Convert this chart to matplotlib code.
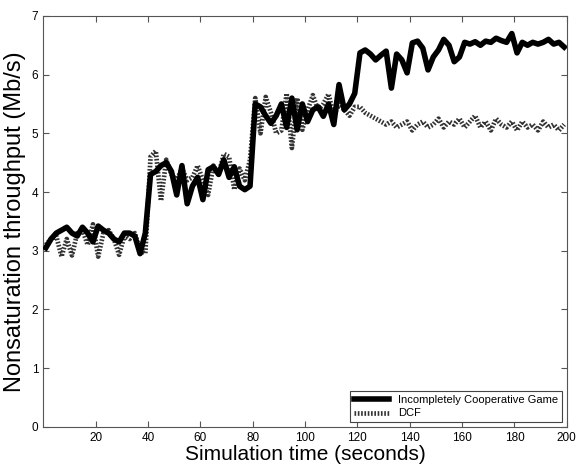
import numpy as np
import matplotlib
matplotlib.use('Agg')
import matplotlib.pyplot as plt

plt.rcParams['font.family'] = ['Liberation Sans', 'DejaVu Sans']

# simulation time (s), one sample every 2 s
time = np.arange(1, 201, 2)

# throughput (Mb/s)
icg = [3.05, 3.2, 3.3, 3.35, 3.4, 3.3, 3.25, 3.4, 3.3, 3.15,
       3.42, 3.35, 3.3, 3.2, 3.15, 3.3, 3.3, 3.25, 2.95, 3.3,
       4.3, 4.35, 4.45, 4.5, 4.35, 3.95, 4.45, 3.8, 4.1, 4.25,
       3.87, 4.38, 4.43, 4.3, 4.55, 4.25, 4.43, 4.1, 4.04, 4.1,
       5.5, 5.45, 5.3, 5.17, 5.3, 5.5, 5.1, 5.6, 5.06, 5.5,
       5.2, 5.4, 5.45, 5.29, 5.5, 5.15, 5.83, 5.4, 5.5, 5.68,
       6.37, 6.42, 6.35, 6.25, 6.33, 6.4, 5.77, 6.35, 6.25, 6.03,
       6.54, 6.57, 6.45, 6.08, 6.3, 6.42, 6.6, 6.5, 6.22, 6.3,
       6.55, 6.52, 6.56, 6.5, 6.57, 6.55, 6.62, 6.58, 6.55, 6.7,
       6.37, 6.55, 6.5, 6.55, 6.52, 6.55, 6.6, 6.52, 6.55, 6.47]

dcf = [3.1, 3.2, 3.25, 2.9, 3.2, 2.92, 3.3, 3.35, 3.1, 3.45,
       2.9, 3.3, 3.35, 3.2, 2.93, 3.25, 3.2, 3.3, 3.0, 2.95,
       4.6, 4.7, 3.85, 4.55, 4.3, 4.2, 4.4, 4.2, 4.25, 4.45,
       4.2, 3.95, 4.45, 4.3, 4.65, 4.6, 4.04, 4.4, 4.2, 4.55,
       5.6, 5.0, 5.62, 5.35, 5.0, 5.05, 5.68, 4.75, 5.6, 5.06,
       5.4, 5.65, 5.4, 5.5, 5.67, 5.3, 5.5, 5.4, 5.3, 5.45,
       5.45, 5.35, 5.3, 5.25, 5.2, 5.15, 5.2, 5.1, 5.15, 5.2,
       5.05, 5.15, 5.2, 5.1, 5.15, 5.25, 5.1, 5.2, 5.15, 5.25,
       5.1, 5.2, 5.3, 5.1, 5.2, 5.05, 5.25, 5.15, 5.1, 5.2,
       5.05, 5.2, 5.1, 5.15, 5.05, 5.2, 5.1, 5.15, 5.05, 5.15]

fig = plt.figure(figsize=(5.76, 4.68), dpi=100)
ax = fig.add_axes([0.075, 0.088, 0.909, 0.878])

ax.plot(time, dcf, color='#333333', lw=3.4, linestyle=(0, (0.35, 0.35)), label='DCF', zorder=2)
ax.plot(time, icg, color='black', lw=4.0, label='Incompletely Cooperative Game', zorder=3)

ax.set_xlim(0, 200)
ax.set_ylim(0, 7)
ax.set_xticks(range(20, 201, 20))
ax.set_yticks(range(0, 8))
ax.tick_params(direction='in', top=True, right=True, labelsize=8.5, length=4, color='#555555')
for s in ax.spines.values():
    s.set_color('#555555')
    s.set_linewidth(0.8)

ax.set_xlabel('Simulation time (seconds)', fontsize=15, labelpad=1)
ax.set_ylabel('Nonsaturation throughput (Mb/s)', fontsize=17, labelpad=4)

handles, labels = ax.get_legend_handles_labels()
leg = ax.legend(handles[::-1], labels[::-1], loc='lower right', fontsize=8, fancybox=False,
                edgecolor='#444444', framealpha=1, borderaxespad=0.4, handlelength=3.2,
                labelspacing=0.3, borderpad=0.35)
leg.get_frame().set_linewidth(0.8)

fig.savefig('out.png', dpi=100)
